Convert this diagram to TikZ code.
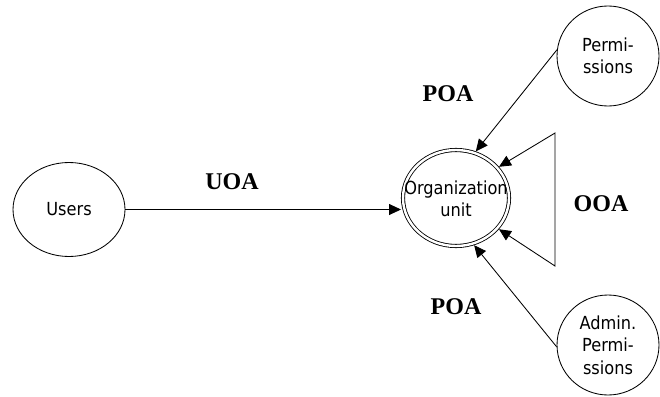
\documentclass[tikz,border=0pt]{standalone}
\usepackage{fontspec}
\setmainfont{Liberation Serif}
\newfontfamily\entityfont{DejaVu Sans Condensed}
\usetikzlibrary{shapes.geometric,arrows.meta}

\begin{document}
\begin{tikzpicture}[x=1pt,y=-1pt,
  every node/.style={inner sep=0pt},
  entitytext/.style={font=\entityfont\fontsize{18}{22.5}\selectfont, align=center},
  entity/.style={ellipse, draw, line width=0.85pt, entitytext,
    minimum width=102pt, minimum height=100pt},
  unitbox/.style={ellipse, draw, double, double distance=2.4pt, line width=0.85pt,
    outer sep=2pt, minimum width=106pt, minimum height=96pt},
  rel/.style={font=\bfseries\fontsize{24}{28}\selectfont},
  link/.style={line width=0.85pt, -{Triangle[length=12pt,width=11pt]}},
  twolink/.style={line width=0.85pt, {Triangle[length=12pt,width=11pt]}-{Triangle[length=12pt,width=11pt]}},
]
\path[use as bounding box] (0,0) rectangle (660,396);

% entities
\node[entity, minimum width=112pt, minimum height=94pt] (users) at (69,209.5) {Users};
\node[unitbox] (org) at (456,198) {};
\node[entitytext] (orgtext) at (456,199) {Organization\\unit};
\node[entity] (perm) at (608,56) {Permi-\\ssions};
\node[entity] (admin) at (608,345) {Admin.\\Permi-\\ssions};

% corners of the self-assignment loop
\coordinate (looptop) at (555,133);
\coordinate (loopbot) at (555,266);

% assignments
\draw[link] (users.east) -- (users.east -| org.west);
\draw[link] (perm.173) -- (org.67);
\draw[link] (admin.182) -- (org.-69);
\draw[twolink] (org.36) -- (looptop) -- (loopbot) -- (org.-36);

% relation labels
\node[rel] (uoa) at (232,182) {UOA};
\node[rel] (poatop) at (448,94) {POA};
\node[rel] (ooa) at (601,204) {OOA};
\node[rel] (poabot) at (456,307) {POA};
\end{tikzpicture}
\end{document}
